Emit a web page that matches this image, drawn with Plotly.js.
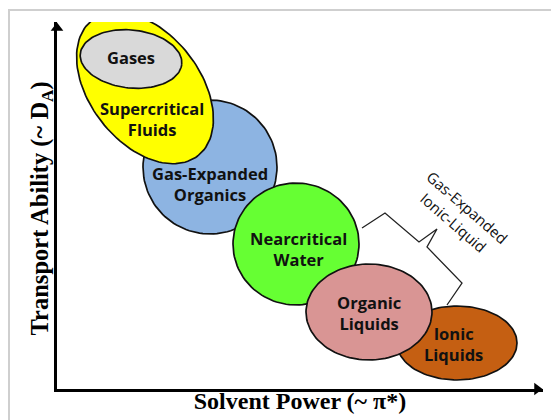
<!DOCTYPE html>
<html>
<head>
<meta charset="utf-8">
<script src="https://cdn.plot.ly/plotly-3.0.1.min.js"></script>
<style>
html,body{margin:0;padding:0;background:#fff;}
#frame{position:absolute;left:8px;top:9px;width:560px;height:420px;border-left:2px solid #cfcfcf;border-top:2px solid #cfcfcf;}
#chart{position:absolute;left:0;top:0;width:551px;height:420px;}
</style>
</head>
<body>
<div id="frame"></div>
<div id="chart"></div>
<script>
// Solvent classes (drawing order: back to front)
var classes      = ['Ionic<br>Liquids', 'Gas-Expanded<br>Organics', 'Nearcritical<br>Water', 'Organic<br>Liquids', 'Supercritical<br>Fluids', 'Gases'];
// centre of each region: solvent power (x) and transport ability (y)
var solventPower = [400, 153, 239, 312, 88, 74];
var transport    = [46, 222, 145, 77, 301, 330];
// half extent of each region along its own axes
var powerSpread     = [60, 67, 63, 63, 86, 51];
var transportSpread = [37, 67, 61, 48, 55, 29];
var tiltDeg         = [0, 0, 0, 0, -52, -6];
var fills = ['#C55F12', '#8DB4E2', '#66FF33', '#D99594', '#FFFF00', '#D9D9D9'];
// label anchor points (solvent power, transport ability)
var labelPower     = [396, 153, 241, 312, 95, 74];
var labelTransport = [45, 205, 140, 76, 270, 332];

// bracket for gas-expanded ionic liquids
var bracketPower     = [305, 328, 362, 380, 370, 405, 390];
var bracketTransport = [161, 176, 147, 160, 142, 106, 84];
var bracketLabel = ['Gas-Expanded', 'Ionic-Liquid'];
var bracketLabelPower = [410, 396];
var bracketLabelTransport = [182, 167];

var xTitle = 'Solvent Power (~ π*)';
var yTitle = 'Transport Ability (~ D<sub>A</sub>)';

function outline(cx, cy, a, b, deg) {
  var t = deg * Math.PI / 180, xs = [], ys = [];
  for (var i = 0; i <= 120; i++) {
    var u = 2 * Math.PI * i / 120;
    var ex = a * Math.cos(u), ey = b * Math.sin(u);
    xs.push(cx + ex * Math.cos(t) - ey * Math.sin(t));
    ys.push(cy + ex * Math.sin(t) + ey * Math.cos(t));
  }
  return {x: xs, y: ys};
}

var traces = [];
for (var i = 0; i < classes.length; i++) {
  var o = outline(solventPower[i], transport[i], powerSpread[i], transportSpread[i], tiltDeg[i]);
  traces.push({type: 'scatter', mode: 'lines', x: o.x, y: o.y, fill: 'toself',
    fillcolor: fills[i], line: {color: '#111', width: 1.7}, hoverinfo: 'skip', showlegend: false});
}
traces.push({type: 'scatter', mode: 'lines', x: bracketPower, y: bracketTransport,
  line: {color: '#222', width: 1.3}, hoverinfo: 'skip', showlegend: false});
// axis arrowheads
traces.push({type: 'scatter', mode: 'markers', x: [480, 0], y: [0, 361], cliponaxis: false,
  marker: {symbol: ['triangle-right', 'triangle-up'], size: 11, color: '#000'},
  hoverinfo: 'skip', showlegend: false});

var labelFont = {family: 'Open Sans, sans-serif', size: 16.5, color: '#111', weight: 700};
var ann = [];
for (var j = 0; j < classes.length; j++) {
  ann.push({x: labelPower[j], y: labelTransport[j], xref: 'x', yref: 'y', text: classes[j],
    showarrow: false, font: labelFont, align: 'center'});
}
for (var k = 0; k < bracketLabel.length; k++) {
  ann.push({x: bracketLabelPower[k], y: bracketLabelTransport[k], xref: 'x', yref: 'y',
    text: bracketLabel[k], showarrow: false, textangle: 41,
    font: {family: 'Open Sans, sans-serif', size: 15, color: '#111'}});
}

var titleFont = {family: 'Liberation Serif, serif', size: 24, color: '#000', weight: 'bold'};
var yTitleFont = {family: 'Liberation Serif, serif', size: 24.5, color: '#000', weight: 'bold'};
ann.push({xref: 'paper', yref: 'paper', x: -0.033, y: 0.492, xanchor: 'center', yanchor: 'middle',
  text: yTitle, textangle: -90, showarrow: false, font: yTitleFont});

var layout = {
  width: 551, height: 420,
  margin: {l: 57, r: 8, t: 22, b: 31},
  paper_bgcolor: 'rgba(0,0,0,0)', plot_bgcolor: 'rgba(0,0,0,0)',
  xaxis: {range: [0, 486], showgrid: false, zeroline: false, showticklabels: false,
    showline: true, linewidth: 2.6, linecolor: '#000', fixedrange: true,
    title: {text: xTitle, standoff: 2, font: titleFont}},
  yaxis: {range: [0, 367], showgrid: false, zeroline: false, showticklabels: false,
    showline: true, linewidth: 2.6, linecolor: '#000', fixedrange: true},
  annotations: ann
};
Plotly.newPlot('chart', traces, layout, {displayModeBar: false, staticPlot: true});
</script>
</body>
</html>
